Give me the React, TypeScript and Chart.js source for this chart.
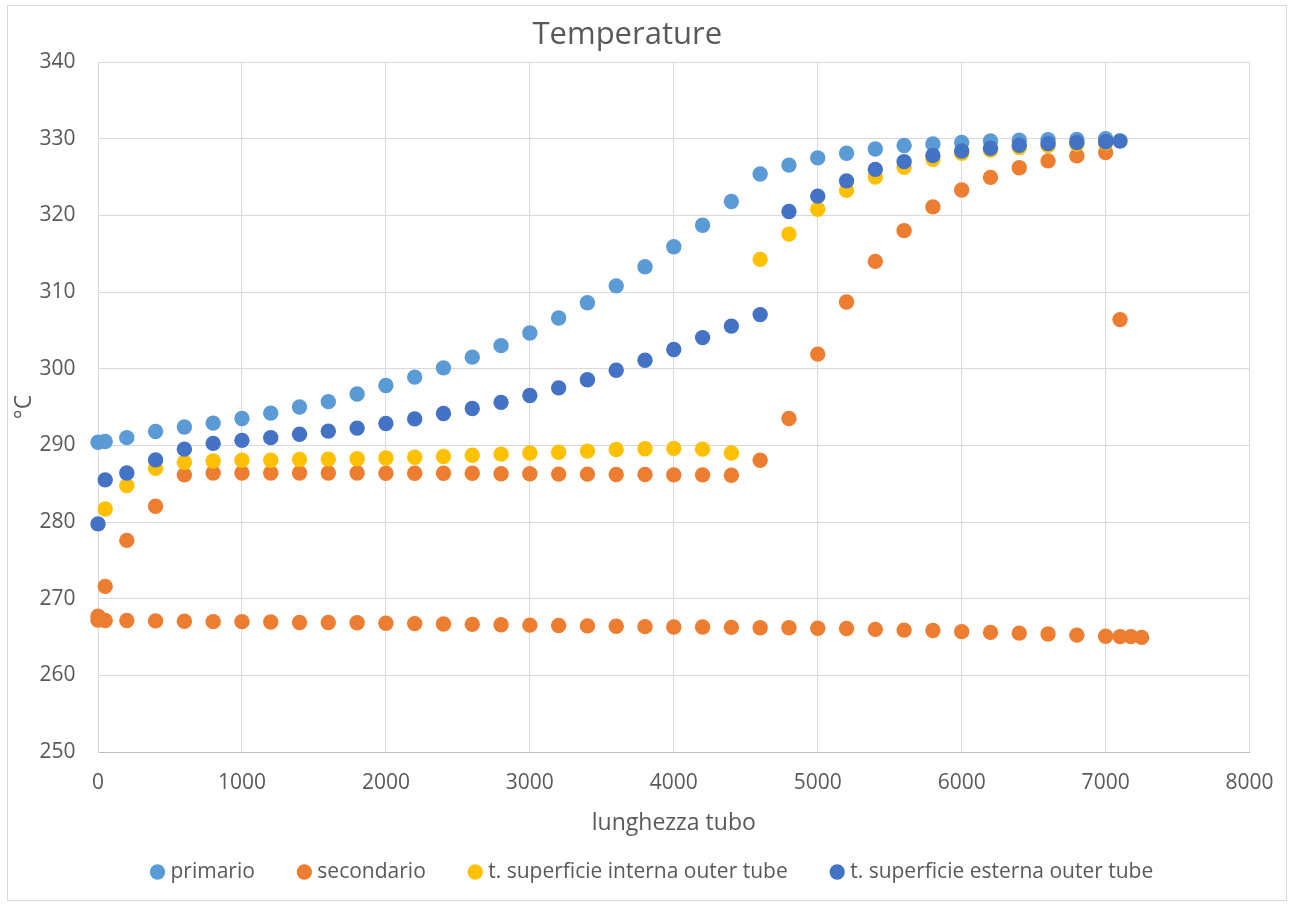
import React, { useEffect, useRef } from 'react';
import { Chart, registerables } from 'chart.js';

Chart.register(...registerables);

// ---- data ----
const xMain = [0, 50, 200, 400, 600, 800, 1000, 1200, 1400, 1600, 1800, 2000, 2200, 2400, 2600, 2800, 3000, 3200, 3400, 3600, 3800, 4000, 4200, 4400, 4600, 4800, 5000, 5200, 5400, 5600, 5800, 6000, 6200, 6400, 6600, 6800, 7000];

const yPrimario = [290.4, 290.5, 291.0, 291.8, 292.4, 292.9, 293.5, 294.2, 295.0, 295.7, 296.7, 297.8, 298.9, 300.1, 301.5, 303.0, 304.65, 306.6, 308.6, 310.8, 313.3, 315.9, 318.7, 321.8, 325.4, 326.55, 327.5, 328.1, 328.65, 329.1, 329.3, 329.5, 329.7, 329.8, 329.85, 329.9, 330.0];

// secondario: return branch (lower) and outgoing branch (upper)
const xSecondarioLow = [0, 50, 200, 400, 600, 800, 1000, 1200, 1400, 1600, 1800, 2000, 2200, 2400, 2600, 2800, 3000, 3200, 3400, 3600, 3800, 4000, 4200, 4400, 4600, 4800, 5000, 5200, 5400, 5600, 5800, 6000, 6200, 6400, 6600, 6800, 7000, 7100, 7175, 7250];
const ySecondarioLow = [267.2, 267.15, 267.15, 267.1, 267.05, 267.0, 267.0, 266.95, 266.9, 266.9, 266.85, 266.8, 266.75, 266.7, 266.65, 266.6, 266.55, 266.5, 266.45, 266.4, 266.35, 266.3, 266.3, 266.25, 266.2, 266.2, 266.15, 266.1, 266.0, 265.9, 265.85, 265.7, 265.6, 265.5, 265.4, 265.25, 265.1, 265.05, 265.05, 264.95];
const xSecondarioHigh = [0, 50, 200, 400, 600, 800, 1000, 1200, 1400, 1600, 1800, 2000, 2200, 2400, 2600, 2800, 3000, 3200, 3400, 3600, 3800, 4000, 4200, 4400, 4600, 4800, 5000, 5200, 5400, 5600, 5800, 6000, 6200, 6400, 6600, 6800, 7000, 7100];
const ySecondarioHigh = [267.7, 271.6, 277.6, 282.05, 286.15, 286.4, 286.4, 286.4, 286.4, 286.4, 286.4, 286.35, 286.35, 286.35, 286.35, 286.3, 286.3, 286.25, 286.25, 286.2, 286.2, 286.15, 286.15, 286.1, 288.05, 293.5, 301.9, 308.7, 314.0, 318.0, 321.1, 323.3, 324.95, 326.2, 327.1, 327.75, 328.2, 306.4];

const xInterna = [50, 200, 400, 600, 800, 1000, 1200, 1400, 1600, 1800, 2000, 2200, 2400, 2600, 2800, 3000, 3200, 3400, 3600, 3800, 4000, 4200, 4400, 4600, 4800, 5000, 5200, 5400, 5600, 5800, 6000, 6200, 6400, 6600, 6800, 7000];
const yInterna = [281.7, 284.75, 287.0, 287.8, 287.95, 288.05, 288.05, 288.15, 288.2, 288.25, 288.35, 288.45, 288.55, 288.7, 288.85, 289.0, 289.1, 289.25, 289.45, 289.55, 289.6, 289.5, 289.0, 314.25, 317.55, 320.8, 323.25, 325.0, 326.25, 327.3, 328.1, 328.5, 328.85, 329.1, 329.3, 329.45];

const xEsterna = [0, 50, 200, 400, 600, 800, 1000, 1200, 1400, 1600, 1800, 2000, 2200, 2400, 2600, 2800, 3000, 3200, 3400, 3600, 3800, 4000, 4200, 4400, 4600, 4800, 5000, 5200, 5400, 5600, 5800, 6000, 6200, 6400, 6600, 6800, 7000, 7100];
const yEsterna = [279.75, 285.5, 286.4, 288.1, 289.5, 290.25, 290.65, 291.0, 291.45, 291.85, 292.25, 292.85, 293.45, 294.15, 294.8, 295.6, 296.5, 297.5, 298.55, 299.8, 301.1, 302.5, 304.05, 305.55, 307.05, 320.5, 322.5, 324.5, 326.0, 327.0, 327.8, 328.4, 328.75, 329.15, 329.35, 329.5, 329.6, 329.7];

const seriesNames = ['primario', 'secondario', 't. superficie interna outer tube', 't. superficie esterna outer tube'];
const seriesColors = ['#5B9BD5', '#ED7D31', '#FFC000', '#4472C4'];

const chartTitle = 'Temperature';
const xTitle = 'lunghezza tubo';
const yTitle = '°C';

const xMin = 0, xMax = 8000, xStep = 1000;
const yMin = 250, yMax = 340, yStep = 10;

const pts = (xs: number[], ys: number[]) => xs.map((x, i) => ({ x, y: ys[i] }));

const FONT = '"Open Sans", sans-serif';
const TEXT = '#595959';

// nudges the (non full-size) legend horizontally after layout
const legendShift = {
  id: 'legendShift',
  afterLayout(chart: any) {
    const l = chart.legend;
    if (l) { l.left += 10; l.right += 10; }
  },
};

export default function App() {
  const ref = useRef<HTMLCanvasElement>(null);

  useEffect(() => {
    document.body.style.margin = '0';
    const seriesData = [
      pts(xMain, yPrimario),
      [...pts(xSecondarioLow, ySecondarioLow), ...pts(xSecondarioHigh, ySecondarioHigh)],
      pts(xInterna, yInterna),
      pts(xEsterna, yEsterna),
    ];
    const datasets = seriesNames.map((name, i) => ({
      label: name,
      data: seriesData[i],
      backgroundColor: seriesColors[i],
      borderColor: seriesColors[i],
      borderWidth: 0,
      pointRadius: 7.7,
      pointHoverRadius: 7.7,
      pointStyle: 'circle',
      showLine: false,
      clip: false as any,
      order: seriesNames.length - 1 - i,
    }));

    const chart = new Chart(ref.current!, {
      type: 'scatter',
      data: { datasets },
      plugins: [legendShift],
      options: {
        animation: false,
        responsive: false,
        maintainAspectRatio: false,
        devicePixelRatio: 1,
        layout: { padding: { left: 0, right: 37.5, top: 0, bottom: 14.5 } },
        plugins: {
          title: {
            display: true,
            text: chartTitle,
            color: TEXT,
            font: { family: FONT, size: 31, weight: 'normal' },
            padding: { top: 16.6, bottom: 8.2 },
          },
          legend: {
            display: true,
            position: 'bottom',
            align: 'start',
            fullSize: false,
            labels: {
              usePointStyle: true,
              pointStyle: 'circle',
              boxWidth: 5,
              boxHeight: 10.8,
              padding: 47,
              color: TEXT,
              font: { family: FONT, size: 21 },
              sort: (a: any, b: any) => a.datasetIndex - b.datasetIndex,
            },
          },
          tooltip: { enabled: false },
        },
        scales: {
          x: {
            type: 'linear',
            min: xMin,
            max: xMax,
            ticks: {
              stepSize: xStep,
              color: TEXT,
              font: { family: FONT, size: 21 },
              padding: 18.4,
              callback: (v: any) => String(v),
            },
            grid: { color: '#D9D9D9', lineWidth: 1, drawTicks: false },
            border: { display: true, color: '#BFBFBF', width: 1 },
            title: {
              display: true,
              text: xTitle,
              color: TEXT,
              font: { family: FONT, size: 23 },
              padding: { top: 0, bottom: -22.3 },
            },
            afterFit: (s: any) => { s.height = 62.5; },
          },
          y: {
            type: 'linear',
            min: yMin,
            max: yMax,
            ticks: {
              stepSize: yStep,
              color: TEXT,
              font: { family: FONT, size: 21 },
              padding: 22.5,
              callback: (v: any) => String(v),
            },
            grid: { color: '#D9D9D9', lineWidth: 1, drawTicks: false },
            border: { display: true, color: '#D9D9D9', width: 1 },
            title: {
              display: true,
              text: yTitle,
              color: TEXT,
              font: { family: FONT, size: 23 },
              padding: { top: 11, bottom: 0 },
            },
            afterFit: (s: any) => { s.width = 98; },
          },
        },
      } as any,
    });
    return () => chart.destroy();
  }, []);

  return (
    <div style={{ position: 'relative', width: 1292, height: 907, background: '#fff' }}>
      <canvas ref={ref} width={1292} height={907} style={{ position: 'absolute', left: 0, top: 0, width: 1292, height: 907 }} />
      <div style={{ position: 'absolute', left: 7, top: 5, width: 1280, height: 896, border: '1px solid #D9D9D9', boxSizing: 'border-box', pointerEvents: 'none' }} />
    </div>
  );
}
